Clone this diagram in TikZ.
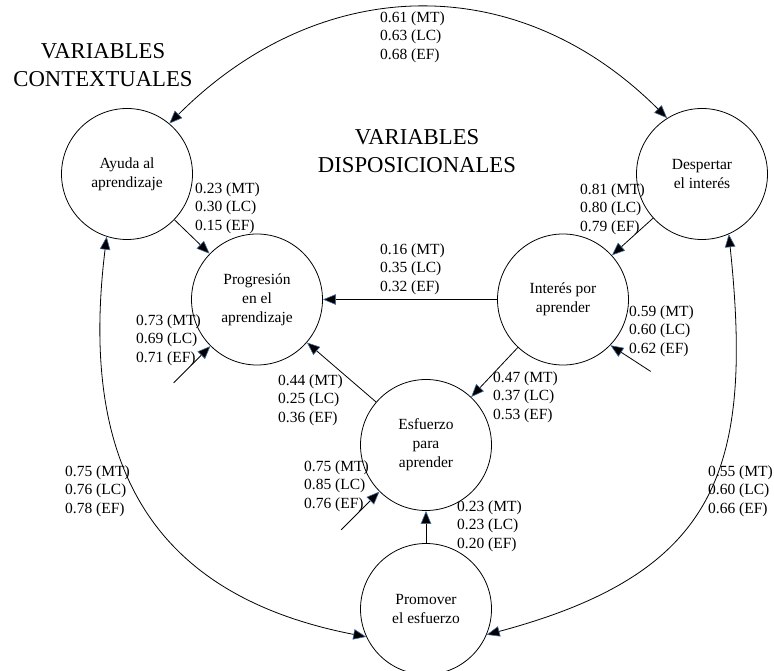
\documentclass[tikz,border=0pt]{standalone}
\usepackage{fontspec}
\setmainfont{Liberation Serif}
\usetikzlibrary{arrows.meta,calc}
\definecolor{glow}{RGB}{70,110,160}
\begin{document}
\begin{tikzpicture}[x=1pt,y=1pt,
  var/.style={circle,draw,line width=0.8pt,minimum size=131pt,inner sep=0pt,align=center,font=\fontsize{15.5}{19}\selectfont},
  lab/.style={anchor=west,align=left,inner sep=0pt,font=\fontsize{15.5}{18.5}\selectfont},
  big/.style={align=center,inner sep=0pt,font=\fontsize{22.7}{28}\selectfont},
  conn/.style={line width=0.8pt,-{Triangle[length=13pt,width=10.5pt,color=glow,fill=black,line width=0.6pt]}},
  both/.style={line width=0.8pt,{Triangle[length=13pt,width=10.5pt,color=glow,fill=black,line width=0.6pt]}-{Triangle[length=13pt,width=10.5pt,color=glow,fill=black,line width=0.6pt]}}
]
\useasboundingbox (0,0) rectangle (774,670);

% variables
\node[var] (ayuda) at (127,496) {Ayuda al\\aprendizaje};
\node[var] (desp) at (702,496) {Despertar\\el interés};
\node[var] (prog) at (257,370.5) {Progresión\\en el\\aprendizaje};
\node[var] (inter) at (563,370.5) {Interés por\\aprender};
\node[var] (esf) at (426,225) {Esfuerzo\\para\\aprender};
\node[var] (prom) at (426,61) {Promover\\el esfuerzo};

% headings
\node[big] (ctx) at (103,604.5) {VARIABLES\\CONTEXTUALES};
\node[big] (disp) at (417,519) {VARIABLES\\DISPOSICIONALES};

% straight paths
\draw[conn] (ayuda) -- (prog);
\draw[conn] (desp) -- (inter);
\draw[conn] (inter) -- (prog);
\draw[conn] (inter) -- (esf);
\draw[conn] (esf) -- (prog);
\draw[conn] (prom) -- (esf);

% correlations (outer arcs)
\draw[both] (ayuda.50) to[out=45,in=135,looseness=1.09] (desp.122);
\draw[both] (ayuda.252) to[out=263,in=169,looseness=1.2] (prom.205);
\draw[both] (desp.294) to[out=276,in=15,looseness=1.3] (prom.337);

% error terms
\path (prog.225) ++(225:52) coordinate (eprog);
\path (inter.-44) ++(-33:48) coordinate (einter);
\path (esf.225) ++(225:54) coordinate (eesf);
\draw[conn] (eprog) -- (prog.225);
\draw[conn] (einter) -- (inter.-44);
\draw[conn] (eesf) -- (esf.225);

% coefficients
\node[lab] (l1) at (380,633) {0.61 (MT)\\0.63 (LC)\\0.68 (EF)};
\node[lab] (l2) at (195,462) {0.23 (MT)\\0.30 (LC)\\0.15 (EF)};
\node[lab] (l3) at (380,401) {0.16 (MT)\\0.35 (LC)\\0.32 (EF)};
\node[lab] (l4) at (580,461) {0.81 (MT)\\0.80 (LC)\\0.79 (EF)};
\node[lab] (l5) at (629,339) {0.59 (MT)\\0.60 (LC)\\0.62 (EF)};
\node[lab] (l6) at (136,330) {0.73 (MT)\\0.69 (LC)\\0.71 (EF)};
\node[lab] (l7) at (278,270) {0.44 (MT)\\0.25 (LC)\\0.36 (EF)};
\node[lab] (l8) at (493,273) {0.47 (MT)\\0.37 (LC)\\0.53 (EF)};
\node[lab] (l9) at (304,184) {0.75 (MT)\\0.85 (LC)\\0.76 (EF)};
\node[lab] (l10) at (457,144) {0.23 (MT)\\0.23 (LC)\\0.20 (EF)};
\node[lab] (l11) at (65,179) {0.75 (MT)\\0.76 (LC)\\0.78 (EF)};
\node[lab] (l12) at (708,179) {0.55 (MT)\\0.60 (LC)\\0.66 (EF)};
\end{tikzpicture}
\end{document}
